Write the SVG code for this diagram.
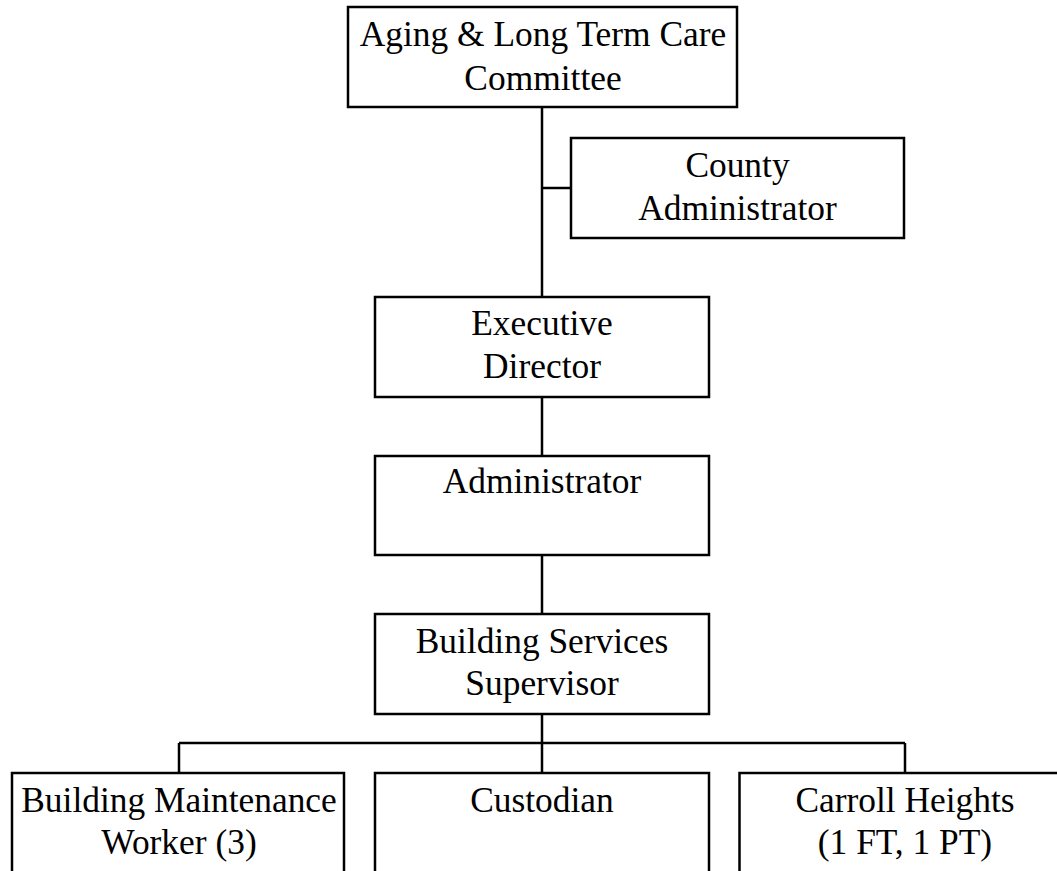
<svg xmlns="http://www.w3.org/2000/svg" width="1057" height="871" viewBox="0 0 1057 871">
<style>
.box{fill:#fff;stroke:#000;stroke-width:2.5}
.t{font-family:"Liberation Serif","Times New Roman",serif;font-size:35.4px;text-anchor:middle;fill:#000}
.c{stroke:#000;stroke-width:2.5;fill:none}
</style>
<rect width="1057" height="871" fill="#fff"/>
<g id="connectors">
<path class="c" d="M542 107V297M542 188H571M542 397V456M542 555V614M542 714V773M179 743H905M179 743V773M905 743V773"/>
</g>
<g id="committee">
<rect class="box" x="348" y="7" width="389" height="100"/>
<text class="t" x="543" y="46">Aging &amp; Long Term Care</text>
<text class="t" x="543" y="90">Committee</text>
</g>
<g id="county">
<rect class="box" x="571" y="138" width="333" height="100"/>
<text class="t" x="737.5" y="176.5">County</text>
<text class="t" x="737.5" y="220">Administrator</text>
</g>
<g id="executive">
<rect class="box" x="375" y="297" width="334" height="100"/>
<text class="t" x="542" y="335">Executive</text>
<text class="t" x="542" y="378">Director</text>
</g>
<g id="administrator">
<rect class="box" x="375" y="456" width="334" height="99"/>
<text class="t" x="542" y="493">Administrator</text>
</g>
<g id="supervisor">
<rect class="box" x="375" y="614" width="334" height="100"/>
<text class="t" x="542" y="652.5">Building Services</text>
<text class="t" x="542" y="695">Supervisor</text>
</g>
<g id="maintenance">
<rect class="box" x="12" y="773" width="332" height="110"/>
<text class="t" x="179" y="811.5">Building Maintenance</text>
<text class="t" x="179" y="853.5">Worker (3)</text>
</g>
<g id="custodian">
<rect class="box" x="375" y="773" width="334" height="110"/>
<text class="t" x="542" y="811.5">Custodian</text>
</g>
<g id="carroll">
<rect class="box" x="739.5" y="773" width="331" height="110"/>
<text class="t" x="905" y="811.5">Carroll Heights</text>
<text class="t" x="905" y="853.5">(1 FT, 1 PT)</text>
</g>
</svg>
